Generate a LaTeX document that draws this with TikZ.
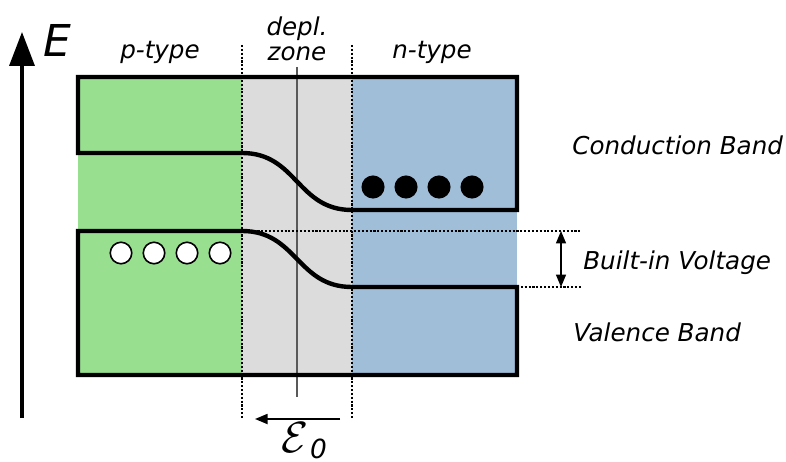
\documentclass[tikz,border=0pt]{standalone}
\usepackage{fontspec}
\setmainfont{DejaVu Sans}
\usetikzlibrary{arrows.meta}

\definecolor{ptypefill}{RGB}{152,224,143}
\definecolor{deplfill}{RGB}{220,220,220}
\definecolor{ntypefill}{RGB}{160,190,216}

\tikzset{
  band/.style={line width=2.5pt, line join=miter},
  guide/.style={dash pattern=on 1.2pt off 1pt, line width=0.7pt},
  lbl/.style={inner sep=0pt, font=\fontsize{14}{14.5}\selectfont\itshape},
  carrier/.style={circle, draw, line width=0.9pt, minimum size=0.43cm, inner sep=0pt},
  hole/.style={carrier, fill=white},
  electron/.style={carrier, fill=black},
}

\begin{document}
\begin{tikzpicture}[x=0.02cm, y=-0.02cm]
  \useasboundingbox (0,0) rectangle (786,462);
  % the three zones
  \fill[ptypefill] (78,77) rectangle (242,375);
  \fill[deplfill] (242,77) rectangle (352,375);
  \fill[ntypefill] (352,77) rectangle (517,375);
  % zone borders and middle of the junction
  \draw[guide] (242,45) -- (242,418);
  \draw[guide] (352,45) -- (352,418);
  \draw[black!65, line width=1pt] (297,67) -- (297,397);
  \draw[guide] (242,231) -- (582,231);
  \draw[guide] (517,287) -- (582,287);
  % conduction band
  \draw[band] (242,153) -- (78,153) -- (78,77) -- (517,77) -- (517,210) -- (352,210)
    .. controls (297,210) and (297,153) .. (242,153);
  % valence band
  \draw[band] (242,231) -- (78,231) -- (78,375) -- (517,375) -- (517,287) -- (352,287)
    .. controls (297,287) and (297,231) .. (242,231);
  % carriers
  \foreach \i/\x in {1/121, 2/154, 3/187, 4/220}
    \node[hole] (h\i) at (\x,253) {};
  \foreach \i/\x in {1/373, 2/406, 3/439, 4/472}
    \node[electron] (e\i) at (\x,187) {};
  % energy axis
  \coordinate (Ebot) at (22,418);
  \coordinate (Etop) at (22,32);
  \draw[line width=2pt, -{Triangle[length=0.68cm, width=0.5cm]}] (Ebot) -- (Etop);
  \node[inner sep=0pt, font=\fontsize{25}{25}\selectfont\itshape] (E) at (57,40) {E};
  % built-in voltage
  \coordinate (Vtop) at (561,231);
  \coordinate (Vbot) at (561,287);
  \draw[line width=0.9pt, {Triangle[length=0.25cm, width=0.2cm]}-{Triangle[length=0.25cm, width=0.2cm]}] (Vtop) -- (Vbot);
  % field
  \coordinate (Fstart) at (340,419);
  \coordinate (Fend) at (255,419);
  \draw[line width=1pt, -{Triangle[length=0.25cm, width=0.2cm]}] (Fstart) -- (Fend);
  \node[inner sep=0pt, anchor=base west] (field) at (281,452)
    {\fontsize{28}{28}\selectfont$\mathcal{E}$\kern1pt\raisebox{-0.25ex}{\fontsize{15}{15}\selectfont\itshape 0}};
  % labels
  \node[lbl] (ptype) at (160,52) {p-type};
  \node[lbl, align=center] (depl) at (297,39) {depl.\\zone};
  \node[lbl] (ntype) at (432,52) {n-type};
  \node[lbl, anchor=west] (cband) at (572,145) {Conduction Band};
  \node[lbl, anchor=west] (bivolt) at (583,263) {Built-in Voltage};
  \node[lbl, anchor=west] (vband) at (573,332) {Valence Band};
\end{tikzpicture}
\end{document}
